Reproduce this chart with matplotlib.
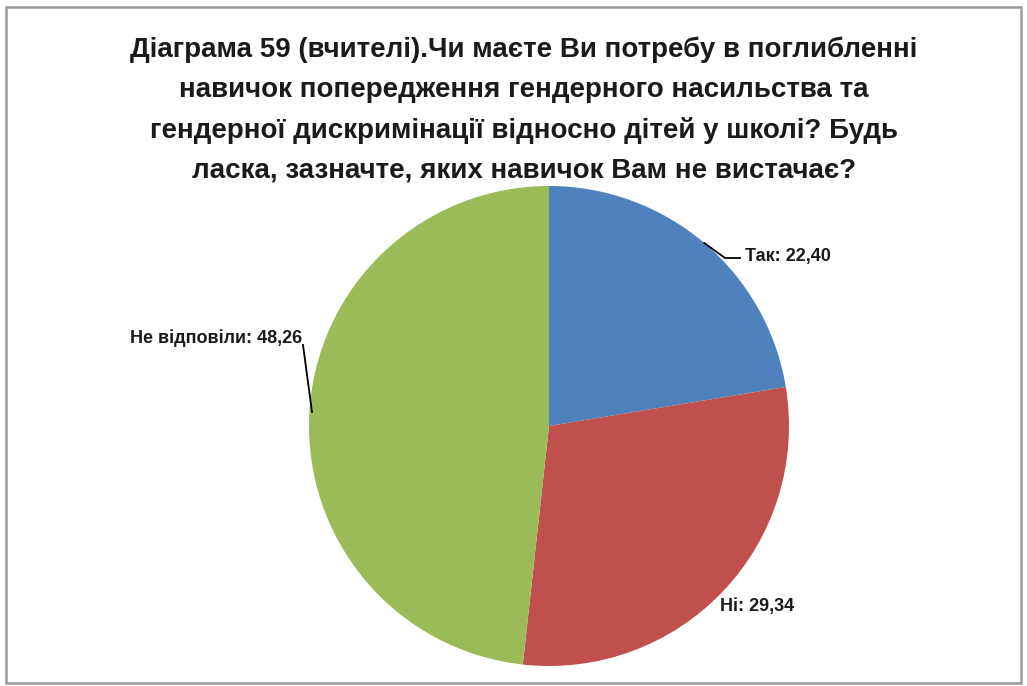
import matplotlib
matplotlib.use("Agg")
import matplotlib.pyplot as plt
from matplotlib.patches import Rectangle
import numpy as np

fam = "Liberation Sans"

categories = ["Так", "Ні", "Не відповіли"]
values = [22.40, 29.34, 48.26]
value_labels = ["22,40", "29,34", "48,26"]
colors = ["#4F81BD", "#C0504D", "#9BBB59"]
title_lines = [
    "Діаграма 59 (вчителі).Чи маєте Ви потребу в поглибленні",
    "навичок попередження гендерного насильства та",
    "гендерної дискримінації відносно дітей у школі? Будь",
    "ласка, зазначте, яких навичок Вам не вистачає?",
]

W, H = 1027, 686
fig = plt.figure(figsize=(W / 100, H / 100), dpi=100)
fig.patch.set_facecolor("white")

# border
fig.add_artist(Rectangle((6 / W, 3 / H), 1015 / W, 676 / H, transform=fig.transFigure,
                         fill=False, edgecolor="#9A9A9A", linewidth=1.8))

for i, line in enumerate(title_lines):
    fig.text(524 / W, 1 - (50 + 40 * i) / H, line, ha="center", va="center",
             fontsize=20, fontweight="bold", family=fam, color="#1a1a1a")

cx, cy, r = 549, 426, 240
ax = fig.add_axes([(cx - r) / W, (H - cy - r) / H, 2 * r / W, 2 * r / H])
wedges, _ = ax.pie(values, colors=colors, startangle=90, counterclock=False,
                   radius=1, wedgeprops=dict(linewidth=0))
ax.set_xlim(-1, 1)
ax.set_ylim(-1, 1)
ax.set_aspect("equal")
ax.axis("off")

def px(x, y):
    return ((x - cx) / r, (cy - y) / r)

lab_kw = dict(fontsize=13, fontweight="bold", family=fam, color="#1a1a1a", clip_on=False)

# Так
w = wedges[0]
ang = np.deg2rad((w.theta1 + w.theta2) / 2)
p0 = (np.cos(ang), np.sin(ang))
p1 = px(725, 258)
p2 = px(740, 258)
ax.plot([p0[0], p1[0], p2[0]], [p0[1], p1[1], p2[1]], color="black", lw=1.3, clip_on=False)
tx, ty = px(745, 256)
ax.text(tx, ty, f"{categories[0]}: {value_labels[0]}", ha="left", va="center", **lab_kw)

# Ні
tx, ty = px(720, 607)
ax.text(tx, ty, f"{categories[1]}: {value_labels[1]}", ha="left", va="center", **lab_kw)

# Не відповіли
p0 = px(312, 412)
p1 = px(303, 345)
ax.plot([p0[0], p1[0]], [p0[1], p1[1]], color="black", lw=1.3, clip_on=False)
tx, ty = px(302, 338)
ax.text(tx, ty, f"{categories[2]}: {value_labels[2]}", ha="right", va="center", **lab_kw)

fig.savefig("out.png", dpi=100, facecolor="white")
